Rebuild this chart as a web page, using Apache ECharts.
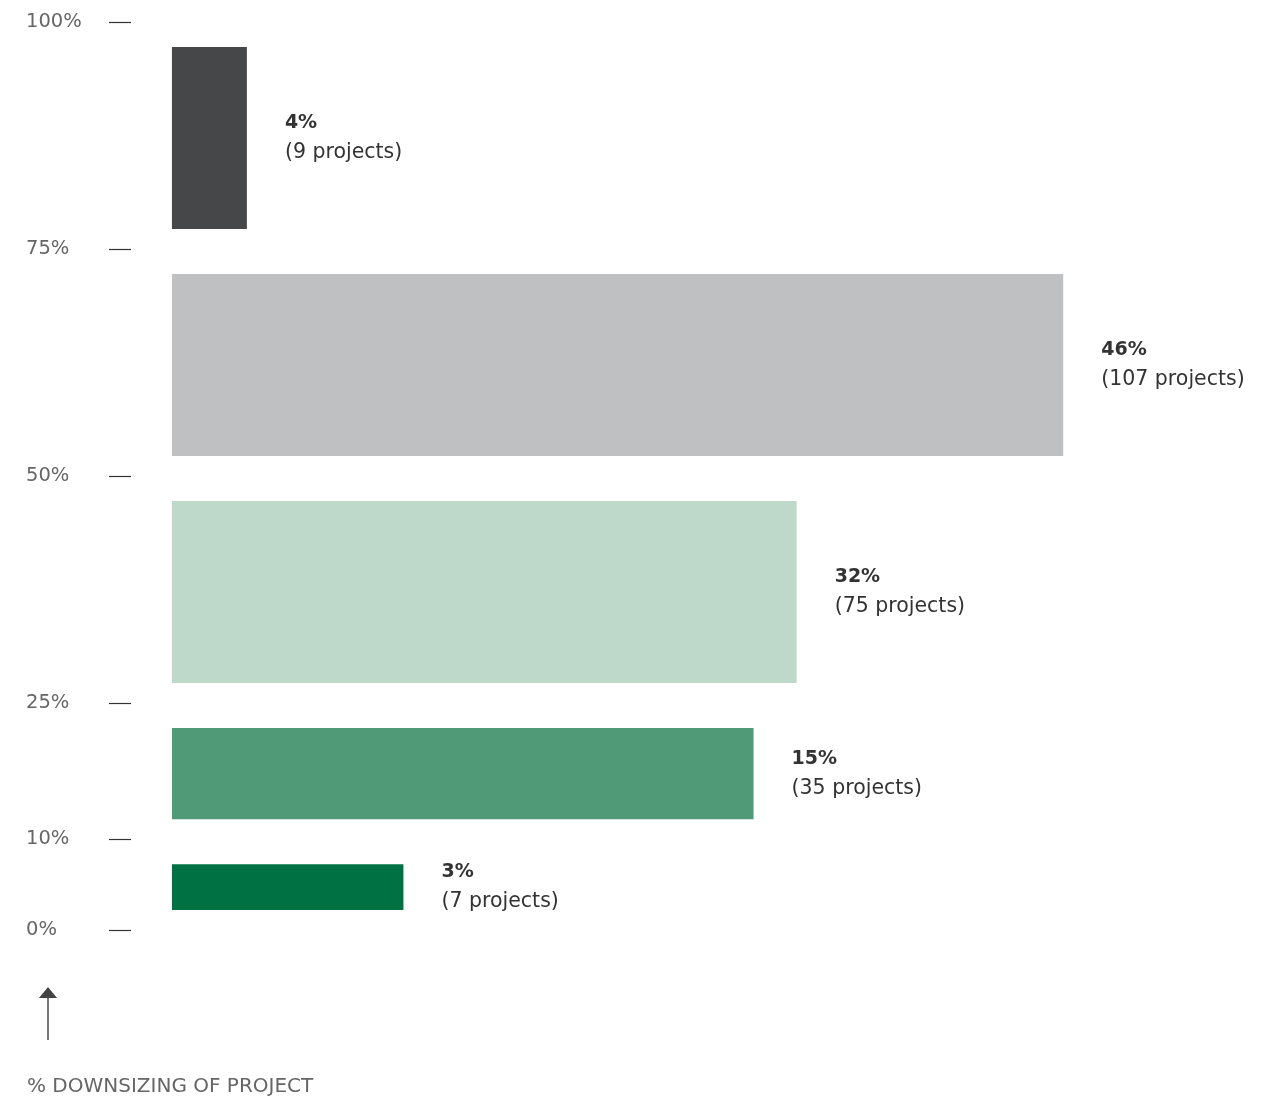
<!DOCTYPE html>
<html>
<head>
<meta charset="utf-8">
<script src="https://cdn.jsdelivr.net/npm/echarts@6/dist/echarts.min.js"></script>
<style>
  html, body { margin: 0; padding: 0; background: #fff; }
  #main { width: 1281px; height: 1102px; }
</style>
</head>
<body>
<div id="main"></div>
<script>
// downsizing ranges (bottom to top), share of projects and project counts
const rangeLow = [0, 10, 25, 50, 75];
const rangeHigh = [10, 25, 50, 75, 100];
const shares = [3, 15, 32, 46, 4];
const projectCounts = [7, 35, 75, 107, 9];
const barColors = ['#007142', '#519a77', '#bed9c9', '#bec0c2', '#464749'];
const tickValues = [0, 10, 25, 50, 75, 100];

// bars are area-proportional: width = projects / bar height (in axis units)
const GAP_BOTTOM = 2.2;
const GAP_TOP = 2.75;

const FONT = '"DejaVu Sans", "Open Sans", sans-serif';

var data = [];
for (var i = 0; i < rangeLow.length; i++) {
  var h = rangeHigh[i] - rangeLow[i] - GAP_BOTTOM - GAP_TOP;
  data.push([projectCounts[i] / h, rangeLow[i] + GAP_BOTTOM, rangeHigh[i] - GAP_TOP, shares[i], projectCounts[i], i]);
}

var myChart = echarts.init(document.getElementById('main'));
var option = {
  animation: false,
  grid: { left: 131, right: 107, top: 22, bottom: 172, outerBoundsMode: 'none', containLabel: false },
  xAxis: {
    type: 'value',
    min: -0.245,
    max: 6,
    show: false
  },
  yAxis: {
    type: 'value',
    min: 0,
    max: 100,
    splitLine: { show: false },
    axisLine: { show: false, onZero: false },
    axisTick: {
      show: true,
      customValues: tickValues,
      length: 22,
      lineStyle: { color: '#333', width: 1.2 }
    },
    axisLabel: {
      customValues: tickValues,
      formatter: '{value}%',
      align: 'left',
      margin: 105,
      color: '#666',
      fontSize: 19.5,
      fontFamily: FONT
    }
  },
  series: [{
    type: 'custom',
    data: data,
    encode: { x: 0, y: [1, 2] },
    renderItem: function (params, api) {
      var p0 = api.coord([0, api.value(1)]);
      var p1 = api.coord([api.value(0), api.value(2)]);
      var idx = api.value(5);
      return {
        type: 'rect',
        shape: { x: p0[0], y: p1[1], width: p1[0] - p0[0], height: p0[1] - p1[1] },
        style: { fill: barColors[idx] },
        textContent: {
          style: {
            text: '{b|' + api.value(3) + '%}\n{n|(' + api.value(4) + ' projects)}',
            rich: {
              b: { fontSize: 19, fontWeight: 'bold', color: '#333', lineHeight: 30, fontFamily: FONT },
              n: { fontSize: 20.5, color: '#555', lineHeight: 30, fontFamily: FONT }
            }
          }
        },
        textConfig: { position: 'right', distance: 38 }
      };
    }
  }],
  graphic: [
    {
      type: 'line',
      shape: { x1: 48, y1: 1040, x2: 48, y2: 996 },
      style: { stroke: '#777', lineWidth: 2 }
    },
    {
      type: 'polygon',
      shape: { points: [[48, 987], [57, 998], [39, 998]] },
      style: { fill: '#444' }
    },
    {
      type: 'text',
      left: 27,
      top: 1077,
      style: {
        text: '% DOWNSIZING OF PROJECT',
        fill: '#666',
        fontSize: 20,
        fontFamily: FONT
      }
    }
  ]
};
myChart.setOption(option);
window.onresize = myChart.resize;
</script>
</body>
</html>
